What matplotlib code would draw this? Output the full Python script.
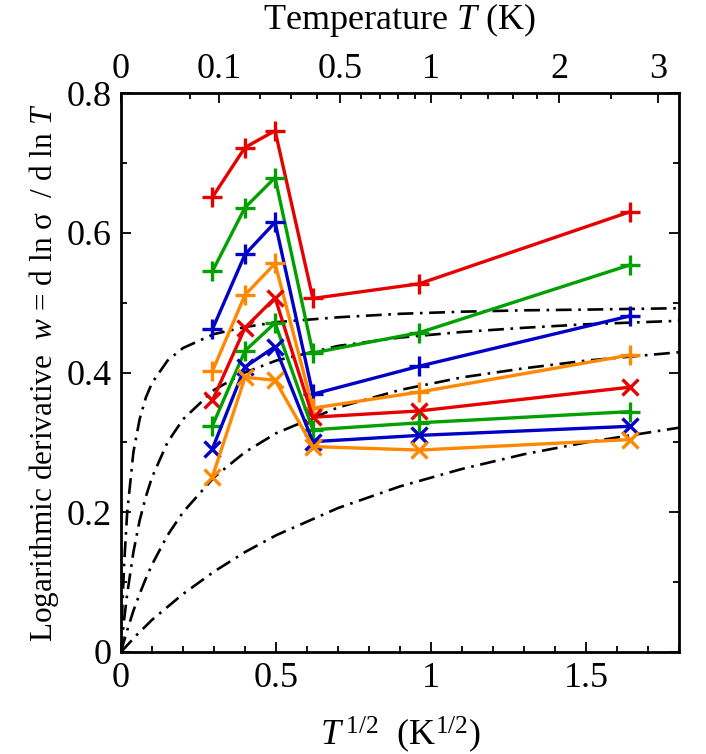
import numpy as np
import matplotlib
matplotlib.use("Agg")
import matplotlib.pyplot as plt
from matplotlib.ticker import MultipleLocator, FixedLocator, FixedFormatter

plt.rcParams['font.family'] = ['Liberation Serif', 'DejaVu Serif']
plt.rcParams['mathtext.fontset'] = 'custom'
plt.rcParams['mathtext.rm'] = 'Liberation Serif'
plt.rcParams['mathtext.it'] = 'Liberation Serif:italic'
plt.rcParams['mathtext.bf'] = 'Liberation Serif:bold'

# ---------------- data ----------------
x_sqrtT = [0.295, 0.400, 0.497, 0.619, 0.962, 1.642]

red_plus    = [0.651, 0.722, 0.746, 0.506, 0.527, 0.630]
green_plus  = [0.545, 0.636, 0.679, 0.428, 0.457, 0.554]
blue_plus   = [0.462, 0.569, 0.615, 0.369, 0.409, 0.481]
orange_plus = [0.402, 0.511, 0.556, 0.349, 0.372, 0.425]
red_x       = [0.360, 0.464, 0.507, 0.336, 0.345, 0.379]
green_plus2 = [0.324, 0.431, 0.471, 0.318, 0.328, 0.344]
blue_x      = [0.291, 0.408, 0.437, 0.301, 0.310, 0.323]
orange_x    = [0.251, 0.393, 0.389, 0.294, 0.289, 0.304]

# dash-dot reference curves
curve_x_A = [0, 0.0025, 0.005, 0.01, 0.02, 0.04, 0.06, 0.08, 0.1, 0.15, 0.2, 0.3, 0.4, 0.5, 0.7, 0.9, 1.1, 1.3, 1.5, 1.8]
curve_A   = [0, 0.039, 0.071, 0.125, 0.200, 0.286, 0.333, 0.364, 0.385, 0.417, 0.435, 0.455, 0.465, 0.472, 0.479, 0.484, 0.487, 0.489, 0.490, 0.492]
curve_x_B = [0, 0.005, 0.01, 0.02, 0.04, 0.06, 0.08, 0.1, 0.15, 0.2, 0.3, 0.4, 0.5, 0.7, 0.9, 1.1, 1.3, 1.5, 1.8]
curve_B   = [0, 0.024, 0.046, 0.083, 0.143, 0.188, 0.222, 0.250, 0.300, 0.333, 0.375, 0.400, 0.417, 0.438, 0.450, 0.458, 0.464, 0.469, 0.474]
curve_x_C = [0, 0.01, 0.02, 0.04, 0.06, 0.08, 0.1, 0.15, 0.2, 0.3, 0.4, 0.5, 0.7, 0.9, 1.1, 1.3, 1.5, 1.8]
curve_C   = [0, 0.016, 0.031, 0.059, 0.083, 0.105, 0.125, 0.167, 0.200, 0.250, 0.286, 0.313, 0.350, 0.375, 0.393, 0.406, 0.417, 0.429]
curve_x_D = [0, 0.05, 0.1, 0.2, 0.3, 0.4, 0.5, 0.7, 0.9, 1.1, 1.3, 1.5, 1.8]
curve_D   = [0, 0.024, 0.046, 0.083, 0.115, 0.143, 0.167, 0.206, 0.237, 0.262, 0.283, 0.300, 0.321]

top_major_T = [0, 0.1, 0.5, 1, 2, 3]
top_major_labels = ['0', '0.1', '0.5', '1', '2', '3']
top_minor_T = [0.05, 0.2, 0.3, 0.4, 0.6, 0.7, 0.8, 0.9, 1.2, 1.4, 1.6, 1.8, 2.5]

RED = '#e60000'
GREEN = '#00a000'
BLUE = '#0000c8'
ORANGE = '#ff8800'

# ---------------- figure ----------------
fig = plt.figure(figsize=(7.06, 7.54), dpi=100)
ax = fig.add_axes([121/706, 1-652/754, (679-121)/706, (652-93)/754])

dd = (0, (6, 2.5, 1.0, 2.5))
for cx, cy in [(curve_x_A, curve_A), (curve_x_B, curve_B), (curve_x_C, curve_C), (curve_x_D, curve_D)]:
    ax.plot(cx, cy, color='black', lw=1.9, linestyle=dd, zorder=1)

series = [
    (red_plus, RED, '+'),
    (green_plus, GREEN, '+'),
    (blue_plus, BLUE, '+'),
    (orange_plus, ORANGE, '+'),
    (red_x, RED, 'x'),
    (green_plus2, GREEN, '+'),
    (blue_x, BLUE, 'x'),
    (orange_x, ORANGE, 'x'),
]
for ys, col, mk in series:
    ms = 15 if mk == '+' else 12
    ax.plot(x_sqrtT, ys, color=col, lw=2.4, marker=mk, ms=ms, mew=2.4, zorder=3)

ax.set_xlim(0, 1.8)
ax.set_ylim(0, 0.8)
ax.xaxis.set_major_locator(FixedLocator([0, 0.5, 1, 1.5]))
ax.xaxis.set_major_formatter(FixedFormatter(['0', '0.5', '1', '1.5']))
ax.xaxis.set_minor_locator(MultipleLocator(0.1))
ax.yaxis.set_major_locator(FixedLocator([0, 0.2, 0.4, 0.6, 0.8]))
ax.yaxis.set_major_formatter(FixedFormatter(['0', '0.2', '0.4', '0.6', '0.8']))
ax.yaxis.set_minor_locator(MultipleLocator(0.1))

ax.tick_params(which='both', direction='in', labelsize=26, top=False, right=True, width=1.3)
ax.tick_params(which='major', length=7, pad=7)
ax.tick_params(which='minor', length=4)
for s in ax.spines.values():
    s.set_linewidth(2.0)

ax.set_xlabel(r'$T^{\,1/2}$  (K$^{1/2}$)', fontsize=26, labelpad=14)
ax.set_ylabel(r'Logarithmic derivative  $w$ = d ln σ  / d ln $T$', fontsize=22.5, labelpad=4)

sec = ax.secondary_xaxis('top', functions=(lambda v: np.sign(v) * v**2,
                                           lambda t: np.sqrt(np.clip(t, 0, None))))
sec.xaxis.set_major_locator(FixedLocator(top_major_T))
sec.xaxis.set_major_formatter(FixedFormatter(top_major_labels))
sec.xaxis.set_minor_locator(FixedLocator(top_minor_T))
sec.tick_params(which='both', direction='in', labelsize=26, width=1.3)
sec.tick_params(which='major', length=7, pad=5)
sec.tick_params(which='minor', length=4)
sec.set_xlabel(r'Temperature $T$ (K)', fontsize=26, labelpad=17)

fig.savefig('out.png', dpi=100)
